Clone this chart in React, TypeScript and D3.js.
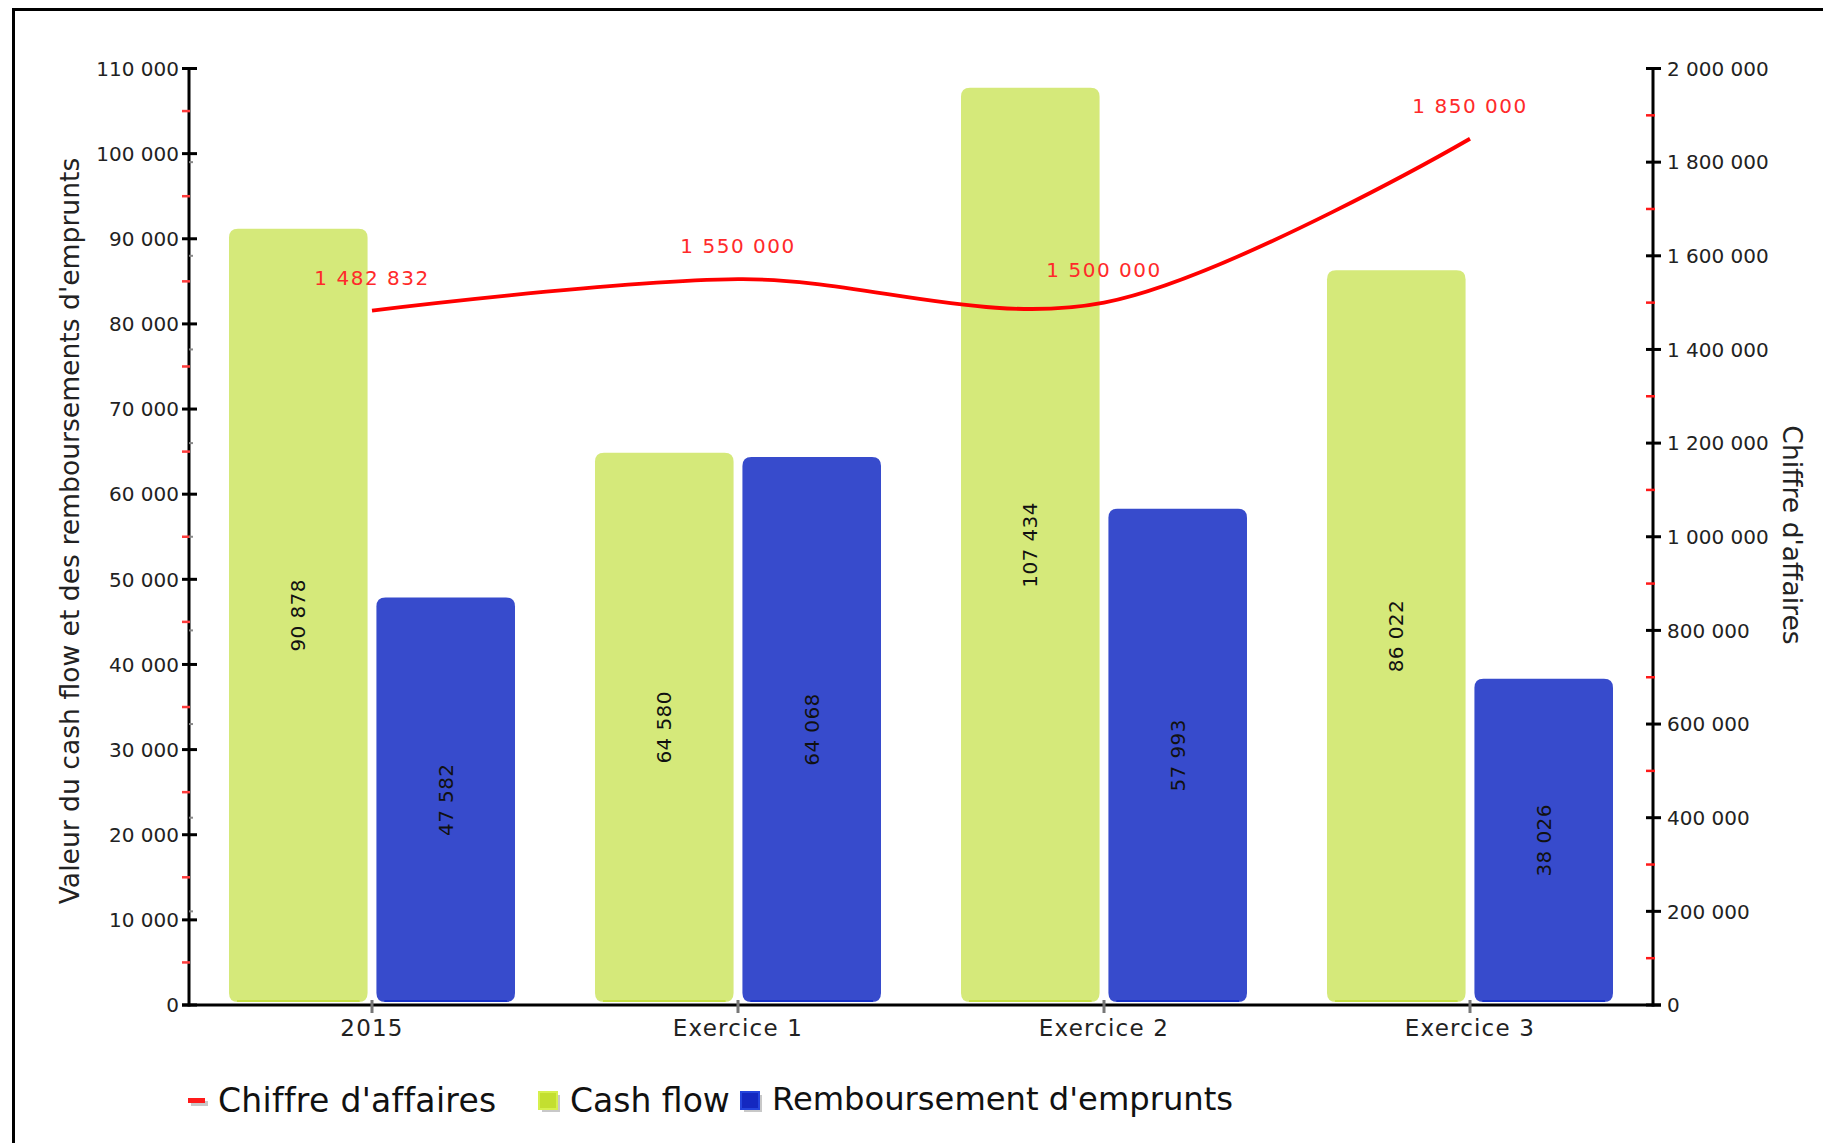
import React from "react";
import * as d3 from "d3";

const categories = ["2015", "Exercice 1", "Exercice 2", "Exercice 3"];
const cashFlow = [90878, 64580, 107434, 86022];
const remboursement = [47582, 64068, 57993, 38026];
const chiffreAffaires = [1482832, 1550000, 1500000, 1850000];
const leftTicks = [0, 10000, 20000, 30000, 40000, 50000, 60000, 70000, 80000, 90000, 100000, 110000];
const rightTicks = [0, 200000, 400000, 600000, 800000, 1000000, 1200000, 1400000, 1600000, 1800000, 2000000];
const seriesNames = ["Cash flow", "Remboursement d'emprunts"];

const W = 1823;
const H = 1143;
const FONT = "'DejaVu Sans', Verdana, sans-serif";

const fmt = (v: number) => {
  const s = Math.round(v).toString();
  return s.replace(/\B(?=(\d{3})+(?!\d))/g, " ");
};

export default function App() {
  const x0 = 189;
  const x1 = 1653;
  const yBottom = 1005;
  const yTop = 68.5;

  const x = d3.scaleBand<string>().domain(categories).range([x0, x1]).paddingInner(0).paddingOuter(0);
  const sub = d3.scaleBand<string>().domain(seriesNames).range([-143, 143]).paddingInner(0.06);
  const yL = d3.scaleLinear().domain([0, 110000]).range([yBottom, yTop]);
  const yR = d3.scaleLinear().domain([0, 2000000]).range([yBottom, yTop]);

  const cx = (c: string) => (x(c) ?? 0) + x.bandwidth() / 2;

  const linePts: [number, number][] = categories.map((c, i) => [cx(c), yR(chiffreAffaires[i])]);
  const lineGen = d3.line().curve(d3.curveCardinal.tension(0));
  const linePath = lineGen(linePts) ?? "";

  const leftMinor = d3.range(5000, 110000, 10000);
  const rightMinor = d3.range(100000, 2000000, 200000);

  const colors = ["#d5e97a", "#374bcc"];
  const edge = ["#c4df45", "#1630c8"];
  const values = [cashFlow, remboursement];

  const barPath = (xl: number, w: number, yt: number, yb: number, r: number) => {
    const p = d3.path();
    p.moveTo(xl + r, yt);
    p.lineTo(xl + w - r, yt);
    p.quadraticCurveTo(xl + w, yt, xl + w, yt + r);
    p.lineTo(xl + w, yb - r);
    p.quadraticCurveTo(xl + w, yb, xl + w - r, yb);
    p.lineTo(xl + r, yb);
    p.quadraticCurveTo(xl, yb, xl, yb - r);
    p.lineTo(xl, yt + r);
    p.quadraticCurveTo(xl, yt, xl + r, yt);
    p.closePath();
    return p.toString();
  };

  const barBottom = 1002;

  return (
    <svg
      width={W}
      height={H}
      viewBox={`0 0 ${W} ${H}`}
      style={{ position: "absolute", left: 0, top: 0, background: "#fff" }}
      fontFamily={FONT}
    >
      <rect x={0} y={0} width={W} height={H} fill="#fff" />
      {/* frame */}
      <path d={`M13.5,${H} L13.5,9.5 L${W},9.5`} fill="none" stroke="#000" strokeWidth={3} />

      {/* bars */}
      {categories.map((c, i) => (
        <g key={c}>
          {seriesNames.map((s, k) => {
            const xl = cx(c) + (sub(s) ?? 0);
            const w = sub.bandwidth();
            const yt = yL(values[k][i]) - 2.5;
            return (
              <g key={s}>
                <path d={barPath(xl, w, yt, barBottom, 9)} fill={colors[k]} />
                <line x1={xl + 8} x2={xl + w - 8} y1={barBottom - 1} y2={barBottom - 1} stroke={edge[k]} strokeWidth={2} />
                <text
                  transform={`translate(${xl + w / 2},${(yt + barBottom) / 2}) rotate(-90)`}
                  textAnchor="middle"
                  dy="0.36em"
                  fontSize={20}
                  fill="#111"
                  letterSpacing={0.4}
                >
                  {fmt(values[k][i])}
                </text>
              </g>
            );
          })}
        </g>
      ))}

      {/* left axis */}
      <line x1={x0} x2={x0} y1={yTop - 1.5} y2={yBottom + 1.5} stroke="#000" strokeWidth={3} />
      {leftMinor.map((v) => (
        <line key={"lm" + v} x1={182} x2={190} y1={yL(v)} y2={yL(v)} stroke="#ff3b3b" strokeWidth={2.5} />
      ))}
      {rightTicks.slice(1).map((v) => (
        <line key={"gm" + v} x1={189} x2={193} y1={yR(v)} y2={yR(v)} stroke="#888" strokeWidth={2} />
      ))}
      {leftTicks.map((v) => (
        <g key={"lt" + v}>
          <line x1={182} x2={197} y1={yL(v)} y2={yL(v)} stroke="#000" strokeWidth={3} />
          <text x={179} y={yL(v)} dy="0.36em" textAnchor="end" fontSize={20} fill="#222">
            {fmt(v)}
          </text>
        </g>
      ))}

      {/* right axis */}
      <line x1={x1} x2={x1} y1={yTop - 1.5} y2={yBottom + 1.5} stroke="#000" strokeWidth={3} />
      {rightMinor.map((v) => (
        <line key={"rm" + v} x1={1646} x2={1655} y1={yR(v)} y2={yR(v)} stroke="#ff1a1a" strokeWidth={2.5} />
      ))}
      {rightTicks.map((v) => (
        <g key={"rt" + v}>
          <line x1={1646} x2={1661} y1={yR(v)} y2={yR(v)} stroke="#000" strokeWidth={3} />
          <text x={1667} y={yR(v)} dy="0.36em" textAnchor="start" fontSize={20} fill="#222">
            {fmt(v)}
          </text>
        </g>
      ))}

      {/* x axis */}
      <line x1={x0 - 7} x2={x1 + 8} y1={yBottom} y2={yBottom} stroke="#000" strokeWidth={3} />
      {categories.map((c) => (
        <g key={"xt" + c}>
          <line x1={cx(c)} x2={cx(c)} y1={1000} y2={1013} stroke="#777" strokeWidth={3} />
          <text x={cx(c)} y={1036} textAnchor="middle" fontSize={23} fill="#222" letterSpacing={1.2}>
            {c}
          </text>
        </g>
      ))}

      {/* line series */}
      <path d={linePath} fill="none" stroke="#ff0000" strokeWidth={3.8} />
      {categories.map((c, i) => (
        <text
          key={"ll" + c}
          x={cx(c)}
          y={yR(chiffreAffaires[i]) - 26}
          textAnchor="middle"
          fontSize={20}
          fill="#ff2a2a"
          letterSpacing={1.5}
        >
          {fmt(chiffreAffaires[i])}
        </text>
      ))}

      {/* axis titles */}
      <text transform={`translate(79,531) rotate(-90)`} textAnchor="middle" fontSize={26.6} fill="#222">
        Valeur du cash flow et des remboursements d'emprunts
      </text>
      <text transform={`translate(1783,535) rotate(90)`} textAnchor="middle" fontSize={26.6} fill="#222">
        Chiffre d'affaires
      </text>

      {/* legend */}
      <rect x={191} y={1101} width={17} height={5} fill="#c8c8c8" />
      <rect x={188} y={1098} width={17} height={5} fill="#ff1a1a" />
      <text x={218} y={1112} fontSize={33} fill="#111" letterSpacing={0.3}>Chiffre d'affaires</text>

      <rect x={542} y={1095} width={18} height={17} fill="#c8c8c8" />
      <rect x={539} y={1092} width={18} height={17} fill="#c3df30" stroke="#d6f04e" strokeWidth={2} />
      <text x={570} y={1112} fontSize={33} fill="#111">Cash flow</text>

      <rect x={744} y={1095} width={18} height={17} fill="#c8c8c8" />
      <rect x={741} y={1092} width={18} height={17} fill="#1428c0" stroke="#2444dc" strokeWidth={2} />
      <text x={772} y={1110} fontSize={32.2} fill="#111">Remboursement d'emprunts</text>
    </svg>
  );
}
